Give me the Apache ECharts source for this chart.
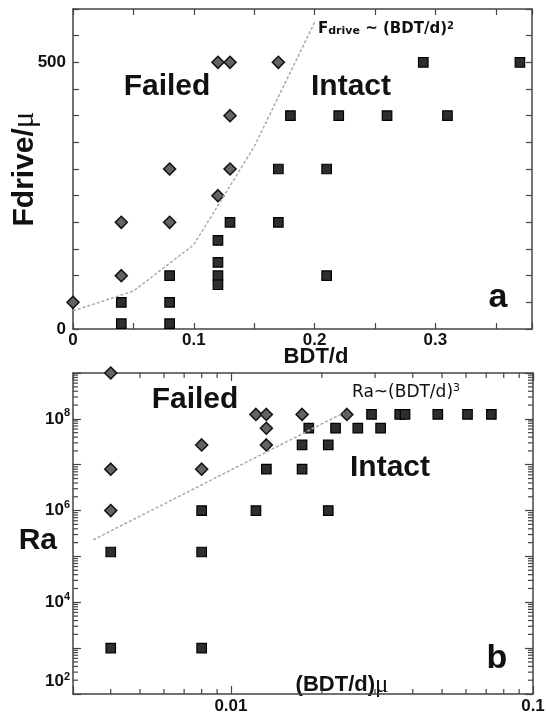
<!DOCTYPE html>
<html><head><meta charset="utf-8">
<script src="https://cdn.jsdelivr.net/npm/echarts@6/dist/echarts.min.js"></script>
<style>html,body{margin:0;padding:0;background:#fff}#c{width:546px;height:712px}</style>
</head><body><div id="c"></div>
<script>
// ---------- Panel a data ----------
const failedA_x = [0, 0.04, 0.04, 0.08, 0.08, 0.12, 0.13, 0.13, 0.12, 0.13, 0.17];
const failedA_y = [50, 100, 200, 200, 300, 250, 300, 400, 500, 500, 500];
const intactA_x = [0.04, 0.04, 0.08, 0.08, 0.08, 0.12, 0.12, 0.12, 0.12, 0.13, 0.17, 0.17, 0.21, 0.21, 0.18, 0.22, 0.26, 0.31, 0.29, 0.37];
const intactA_y = [50, 10, 50, 10, 100, 166, 125, 100, 83, 200, 200, 300, 300, 100, 400, 400, 400, 400, 500, 500];
const fitA_x = [0, 0.05, 0.1, 0.15, 0.2];
const fitA_y = [34, 71, 158, 342, 575];
const xLabelValsA = [0, 0.1, 0.2, 0.3];
const yLabelValsA = [0, 500];

// ---------- Panel b data ----------
const failedB_x = [0.004, 0.004, 0.004, 0.008, 0.008, 0.0121, 0.0131, 0.0131, 0.0131, 0.0172, 0.0242];
const failedB_y = [1e9, 8e6, 1e6, 2.7e7, 8e6, 1.25e8, 1.25e8, 6.25e7, 2.7e7, 1.25e8, 1.25e8];
const intactB_x = [0.004, 0.004, 0.008, 0.008, 0.008, 0.0121, 0.0131, 0.0172, 0.0172, 0.021, 0.021, 0.0181, 0.0222, 0.0263, 0.0313, 0.0292, 0.0362, 0.0377, 0.0484, 0.0607, 0.0728];
const intactB_y = [1.25e5, 1e3, 1.25e5, 1e3, 1e6, 1e6, 8e6, 8e6, 2.7e7, 2.7e7, 1e6, 6.25e7, 6.25e7, 6.25e7, 6.25e7, 1.25e8, 1.25e8, 1.25e8, 1.25e8, 1.25e8, 1.25e8];
const fitB_x = [0.0035, 0.0236];
const fitB_y = [2.3e5, 1.35e8];
const xLabelValsB = [0.01, 0.1];
const yLabelExpB = [2, 4, 6, 8];
const minorTicksBx = [0.004, 0.005, 0.006, 0.007, 0.008, 0.009, 0.02, 0.03, 0.04, 0.05, 0.06, 0.07, 0.08, 0.09];
const minorMantissas = [2, 3, 4, 5, 6, 7, 8, 9];
const minorDecadesBy = [1e2, 1e3, 1e4, 1e5, 1e6, 1e7, 1e8];

// ---------- helpers ----------
const zip = (xs, ys) => xs.map((x, i) => [x, ys[i]]);
const FONT = "'Liberation Sans', Arial, sans-serif";
const AX = '#444';
const near = (a, b) => Math.abs(a - b) < 1e-9 * Math.max(1, Math.abs(b));
const minorTicksBy = [];
minorDecadesBy.forEach(d => minorMantissas.forEach(m => minorTicksBy.push(m * d)));

const axLine = {show: true, onZero: false, lineStyle: {color: AX, width: 1.5}};
const tick = (len) => ({show: true, inside: true, length: len, lineStyle: {color: AX, width: 1.2}});
const lblStyle = {color: '#111', fontFamily: FONT, fontWeight: 'bold', fontSize: 17};

const chart = echarts.init(document.getElementById('c'), null, {renderer: 'canvas'});

const option = {
  animation: false,
  backgroundColor: '#fff',
  grid: [
    {left: 73, right: 14, top: 9, height: 320, outerBoundsMode: 'none', containLabel: false},
    {left: 73, right: 13, top: 373, height: 321, outerBoundsMode: 'none', containLabel: false}
  ],
  xAxis: [
    {gridIndex: 0, type: 'value', position: 'bottom', min: 0, max: 0.38, interval: 0.05,
     axisLine: axLine, axisTick: tick(6), splitLine: {show: false},
     axisLabel: Object.assign({margin: 3, formatter: v => {
        const m = xLabelValsA.find(t => near(v, t)); return m === undefined ? '' : String(m);
     }}, lblStyle),
     name: 'BDT/d', nameLocation: 'middle', nameGap: 17, nameMoveOverlap: false,
     nameTextStyle: {color: '#111', fontFamily: FONT, fontWeight: 'bold', fontSize: 22, padding: [0, 0, 0, 27], verticalAlign: 'top'}},
    {gridIndex: 0, type: 'value', position: 'top', min: 0, max: 0.38, interval: 0.05,
     axisLine: axLine, axisTick: tick(6), axisLabel: {show: false}, splitLine: {show: false}},
    {gridIndex: 1, type: 'log', logBase: 10, position: 'bottom', min: 0.003, max: 0.1,
     axisLine: axLine, axisTick: tick(8), splitLine: {show: false},
     axisLabel: Object.assign({margin: 4, showMaxLabel: true, formatter: v => {
        const m = xLabelValsB.find(t => near(v, t)); return m === undefined ? '' : String(m);
     }}, lblStyle)},
    {gridIndex: 1, type: 'log', logBase: 10, position: 'top', min: 0.003, max: 0.1,
     axisLine: axLine, axisTick: tick(8), axisLabel: {show: false}, splitLine: {show: false}}
  ],
  yAxis: [
    {gridIndex: 0, type: 'value', position: 'left', min: 0, max: 600, interval: 50,
     axisLine: axLine, axisTick: tick(6), splitLine: {show: false},
     axisLabel: Object.assign({margin: 7, formatter: v => {
        const m = yLabelValsA.find(t => near(v, t)); return m === undefined ? '' : String(m);
     }}, lblStyle),
     name: '{a|Fdrive/}{m|μ}', nameLocation: 'middle', nameGap: 33, nameMoveOverlap: false,
     nameTextStyle: {rich: {
        a: {color: '#111', fontFamily: FONT, fontWeight: 'bold', fontSize: 30},
        m: {color: '#111', fontFamily: "'Liberation Serif', serif", fontSize: 31}}}},
    {gridIndex: 0, type: 'value', position: 'right', min: 0, max: 600, interval: 50,
     axisLine: axLine, axisTick: tick(6), axisLabel: {show: false}, splitLine: {show: false}},
    {gridIndex: 1, type: 'log', logBase: 10, position: 'left', min: 1e2, max: 1e9, splitNumber: 7,
     axisLine: axLine, axisTick: tick(8), splitLine: {show: false},
     axisLabel: {margin: 3, showMinLabel: true, formatter: v => {
        const e = Math.round(Math.log10(v));
        if (!near(v, Math.pow(10, e)) || yLabelExpB.indexOf(e) < 0) return '';
        if (e === yLabelExpB[0]) return '{b2|10}{s2|' + e + '}';
        return '{b|10}{s|' + e + '}';
      },
      rich: {
        b: {color: '#111', fontFamily: FONT, fontWeight: 'bold', fontSize: 17, lineHeight: 22},
        s: {color: '#111', fontFamily: FONT, fontWeight: 'bold', fontSize: 11, lineHeight: 11, verticalAlign: 'top'},
        b2: {color: '#111', fontFamily: FONT, fontWeight: 'bold', fontSize: 17, lineHeight: 46, verticalAlign: 'top', padding: [2, 0, 0, 0]},
        s2: {color: '#111', fontFamily: FONT, fontWeight: 'bold', fontSize: 11, lineHeight: 11, verticalAlign: 'top'}
      }},
     name: '{r|Ra}', nameLocation: 'middle', nameRotate: 0, nameGap: 16, nameMoveOverlap: false,
     nameTextStyle: {rich: {r: {color: '#111', fontFamily: FONT, fontWeight: 'bold', fontSize: 30, padding: [14, 0, 0, 0]}}}},
    {gridIndex: 1, type: 'log', logBase: 10, position: 'right', min: 1e2, max: 1e9, splitNumber: 7,
     axisLine: axLine, axisTick: tick(8), axisLabel: {show: false}, splitLine: {show: false}}
  ],
  series: [
    {type: 'line', xAxisIndex: 0, yAxisIndex: 0, data: zip(fitA_x, fitA_y), symbol: 'none', silent: true,
     lineStyle: {color: '#aaa', width: 1.5, type: [3, 2]}},
    {type: 'scatter', xAxisIndex: 0, yAxisIndex: 0, data: zip(failedA_x, failedA_y), symbol: 'diamond', symbolSize: 12,
     itemStyle: {color: '#636363', borderColor: '#111', borderWidth: 1.5, opacity: 1}},
    {type: 'scatter', xAxisIndex: 0, yAxisIndex: 0, data: zip(intactA_x, intactA_y), symbol: 'rect', symbolSize: 9.5,
     itemStyle: {color: '#2e2e2e', borderColor: '#000', borderWidth: 1.2, opacity: 1}},
    {type: 'line', xAxisIndex: 2, yAxisIndex: 2, data: zip(fitB_x, fitB_y), symbol: 'none', silent: true,
     lineStyle: {color: '#aaa', width: 1.5, type: [3, 2]}},
    {type: 'scatter', xAxisIndex: 2, yAxisIndex: 2, data: zip(failedB_x, failedB_y), symbol: 'diamond', symbolSize: 12,
     itemStyle: {color: '#636363', borderColor: '#111', borderWidth: 1.5, opacity: 1}, clip: false},
    {type: 'scatter', xAxisIndex: 2, yAxisIndex: 2, data: zip(intactB_x, intactB_y), symbol: 'rect', symbolSize: 9.5,
     itemStyle: {color: '#2e2e2e', borderColor: '#000', borderWidth: 1.2, opacity: 1}},
    {type: 'custom', xAxisIndex: 2, yAxisIndex: 2, silent: true, clip: false,
     data: minorTicksBx.map(v => [v, 1e2]),
     renderItem: (params, api) => {
       const x = api.value(0);
       const b = api.coord([x, 1e2]); const t = api.coord([x, 1e9]);
       const st = {stroke: AX, lineWidth: 1.2};
       return {type: 'group', children: [
         {type: 'line', shape: {x1: b[0], y1: b[1], x2: b[0], y2: b[1] - 5}, style: st},
         {type: 'line', shape: {x1: t[0], y1: t[1], x2: t[0], y2: t[1] + 5}, style: st}]};
     }},
    {type: 'custom', xAxisIndex: 2, yAxisIndex: 2, silent: true, clip: false,
     data: minorTicksBy.map(v => [0.003, v]),
     renderItem: (params, api) => {
       const y = api.value(1);
       const l = api.coord([0.003, y]); const r = api.coord([0.1, y]);
       const st = {stroke: AX, lineWidth: 1.2};
       return {type: 'group', children: [
         {type: 'line', shape: {x1: l[0], y1: l[1], x2: l[0] + 5, y2: l[1]}, style: st},
         {type: 'line', shape: {x1: r[0], y1: r[1], x2: r[0] - 5, y2: r[1]}, style: st}]};
     }}
  ],
  graphic: [
    {type: 'text', x: 167, y: 87, style: {text: 'Failed', fill: '#111', font: 'bold 30px ' + FONT, textAlign: 'center', textVerticalAlign: 'middle'}},
    {type: 'text', x: 351, y: 87, style: {text: 'Intact', fill: '#111', font: 'bold 30px ' + FONT, textAlign: 'center', textVerticalAlign: 'middle'}},
    {type: 'text', x: 318, y: 29, style: {text: '{F|F}{d|drive}{m| ~ (BDT/d)}{s|2}', textVerticalAlign: 'middle', rich: {
      F: {fill: '#111', fontFamily: "'DejaVu Sans', sans-serif", fontWeight: 'bold', fontSize: 15, lineHeight: 16, verticalAlign: 'bottom'},
      d: {fill: '#111', fontFamily: "'DejaVu Sans', sans-serif", fontWeight: 'bold', fontSize: 11, lineHeight: 13, verticalAlign: 'bottom'},
      m: {fill: '#111', fontFamily: "'DejaVu Sans', sans-serif", fontWeight: 'bold', fontSize: 15, lineHeight: 16, verticalAlign: 'bottom'},
      s: {fill: '#111', fontFamily: "'DejaVu Sans', sans-serif", fontWeight: 'bold', fontSize: 10, lineHeight: 10, verticalAlign: 'top'}}}},
    {type: 'text', x: 498, y: 298, style: {text: 'a', fill: '#111', font: 'bold 34px ' + FONT, textAlign: 'center', textVerticalAlign: 'middle'}},
    {type: 'text', x: 195, y: 400, style: {text: 'Failed', fill: '#111', font: 'bold 30px ' + FONT, textAlign: 'center', textVerticalAlign: 'middle'}},
    {type: 'text', x: 390, y: 468, style: {text: 'Intact', fill: '#111', font: 'bold 30px ' + FONT, textAlign: 'center', textVerticalAlign: 'middle'}},
    {type: 'text', x: 352, y: 392, style: {text: '{m|Ra~(BDT/d)}{s|3}', textVerticalAlign: 'middle', rich: {
      m: {fill: '#111', fontFamily: "'DejaVu Sans', sans-serif", fontSize: 17, lineHeight: 18, verticalAlign: 'bottom'},
      s: {fill: '#111', fontFamily: "'DejaVu Sans', sans-serif", fontSize: 11, lineHeight: 10, verticalAlign: 'top'}}}},
    {type: 'text', x: 497, y: 659, style: {text: 'b', fill: '#111', font: 'bold 34px ' + FONT, textAlign: 'center', textVerticalAlign: 'middle'}},
    {type: 'text', x: 342, y: 685, style: {text: '{t|(BDT/d)}{m|μ}', textAlign: 'center', textVerticalAlign: 'middle', rich: {
      t: {fill: '#111', fontFamily: FONT, fontWeight: 'bold', fontSize: 22},
      m: {fill: '#111', fontFamily: "'Liberation Serif', serif", fontSize: 25}}}}
  ]
};
chart.setOption(option);
</script></body></html>
